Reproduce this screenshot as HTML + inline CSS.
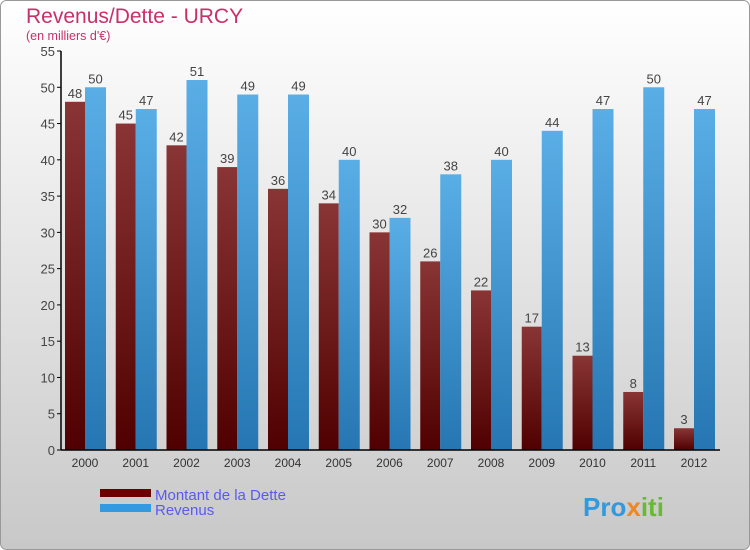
<!DOCTYPE html>
<html><head><meta charset="utf-8"><style>
body{margin:0}
#c{position:relative;width:750px;height:550px;overflow:hidden;font-family:"Liberation Sans",sans-serif}
</style></head><body>
<div id="c">
<svg width="750" height="550" xmlns="http://www.w3.org/2000/svg">
<defs>
<linearGradient id="bg" x1="0" y1="0" x2="0" y2="1"><stop offset="0" stop-color="#ffffff"/><stop offset="1" stop-color="#c8c8c8"/></linearGradient>
<linearGradient id="gd" x1="0" y1="0" x2="0" y2="1"><stop offset="0" stop-color="#8a3535"/><stop offset="1" stop-color="#500000"/></linearGradient>
<linearGradient id="gr" x1="0" y1="0" x2="0" y2="1"><stop offset="0" stop-color="#5aaee6"/><stop offset="1" stop-color="#2576b2"/></linearGradient>
</defs>
<rect x="0.5" y="0.5" width="749" height="549" rx="6" fill="url(#bg)" stroke="#999"/>
<text x="26" y="23" font-size="21" fill="#c8306a">Revenus/Dette - URCY</text>
<text x="26" y="40" font-size="12.5" fill="#c8306a">(en milliers d'€)</text>
<g id="plot"></g>
<rect x="100" y="489" width="51" height="8" fill="#6a0000"/>
<text x="155" y="500" font-size="15" fill="#5a5aee">Montant de la Dette</text>
<rect x="100" y="504" width="51" height="8" fill="#3399e0"/>
<text x="155" y="515" font-size="15" fill="#5a5aee">Revenus</text>
<text x="583" y="516" font-size="26" font-weight="bold" fill="#3399dd">Pro<tspan fill="#ee8822">x</tspan><tspan fill="#66bb33">iti</tspan></text>
</svg>
</div>
<script>
const years=["2000","2001","2002","2003","2004","2005","2006","2007","2008","2009","2010","2011","2012"];
const dette=[48,45,42,39,36,34,30,26,22,17,13,8,3];
const revenus=[50,47,51,49,49,40,32,38,40,44,47,50,47];
const yTicks=[0,5,10,15,20,25,30,35,40,45,50,55];
const NS="http://www.w3.org/2000/svg";
const g=document.getElementById('plot');
const y0=450,yTop=51,yMax=55;
const ys=v=>y0-(v/yMax)*(y0-yTop);
const xs=i=>85+i*50.75;
function mk(t,a,txt){const e=document.createElementNS(NS,t);for(const k in a)e.setAttribute(k,a[k]);if(txt!==undefined)e.textContent=txt;g.appendChild(e);return e;}
yTicks.forEach(v=>{
 const l=mk('line',{x1:57,x2:61,y1:ys(v),y2:ys(v),stroke:'#000'});
 
 
 const t=mk('text',{x:55,y:ys(v)+5,'font-size':13,fill:'#444','text-anchor':'end'},v);
 
 
});
years.forEach((yr,i)=>{
 const x=xs(i);
 const b1=mk('rect',{x:x-20,y:ys(dette[i]),width:20,height:y0-ys(dette[i]),fill:'url(#gd)'});
 
 
 const b2=mk('rect',{x:x,y:ys(revenus[i]),width:21,height:y0-ys(revenus[i]),fill:'url(#gr)'});
 
 
 const t1=mk('text',{x:x-10,y:ys(dette[i])-4,'font-size':13,fill:'#444','text-anchor':'middle'},dette[i]);
 
 
 const t2=mk('text',{x:x+10.5,y:ys(revenus[i])-4,'font-size':13,fill:'#444','text-anchor':'middle'},revenus[i]);
 
 
 const xl=mk('text',{x:x,y:467,'font-size':12,fill:'#333','text-anchor':'middle'},yr);
 
 
});
const ya=mk('line',{x1:61,x2:61,y1:yTop,y2:y0,stroke:'#000','stroke-width':1.5});


const xa=mk('line',{x1:61,x2:720,y1:y0,y2:y0,stroke:'#000','stroke-width':1.5});


</script>
</body></html>
